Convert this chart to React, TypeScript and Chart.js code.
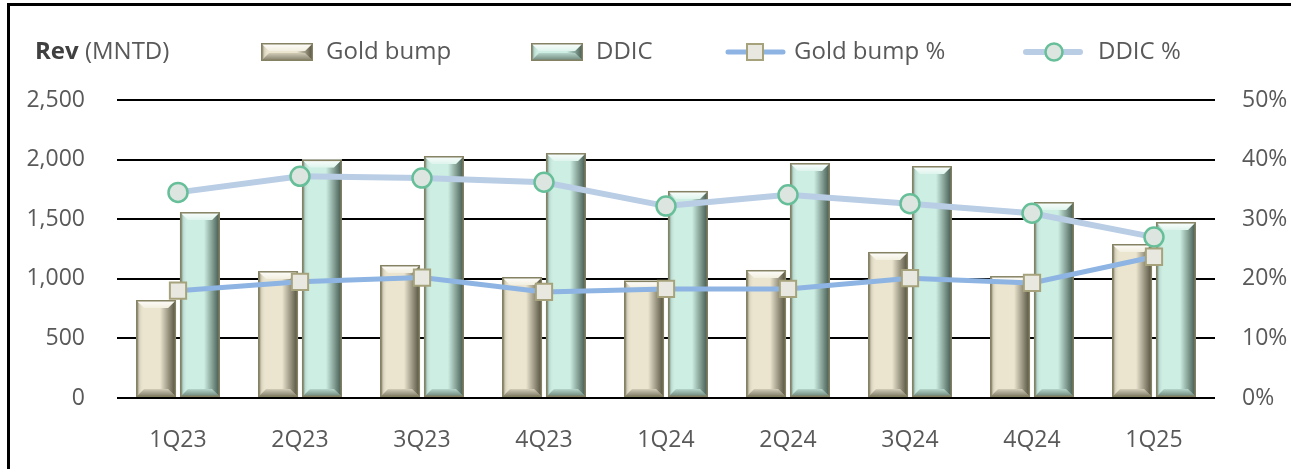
import React, { useEffect, useRef } from "react";
import { Chart, registerables } from "chart.js";

Chart.register(...registerables);

const categories = ["1Q23", "2Q23", "3Q23", "4Q23", "1Q24", "2Q24", "3Q24", "4Q24", "1Q25"];
const goldBump = [822, 1065, 1116, 1015, 985, 1074, 1225, 1023, 1292];
const ddic = [1560, 2000, 2030, 2055, 1737, 1971, 1946, 1644, 1476];
const goldBumpPct = [18.0, 19.5, 20.2, 17.8, 18.3, 18.3, 20.1, 19.3, 23.7];
const ddicPct = [34.5, 37.2, 36.9, 36.2, 32.2, 34.1, 32.6, 31.0, 27.0];
const leftTicks = [0, 500, 1000, 1500, 2000, 2500];
const rightTicks = [0, 10, 20, 30, 40, 50];

const FONT = "'Open Sans', 'Noto Sans', sans-serif";
const TEXT = "#595959";

const GOLD = { base: "#ebe5cf", dark: "62,60,42", border: "#858263" };
const TEAL = { base: "#cdeee3", dark: "48,68,58", border: "#858263" };

function bevel(ctx: CanvasRenderingContext2D, l: number, t: number, w: number, h: number, c: { base: string; dark: string; border: string }) {
  if (h <= 0 || w <= 0) return;
  const b = Math.min(8, w / 4, h / 2);
  ctx.save();
  ctx.fillStyle = c.base;
  ctx.fillRect(l, t, w, h);
  // right shading band
  let g = ctx.createLinearGradient(l + w - b * 2, 0, l + w, 0);
  g.addColorStop(0, `rgba(${c.dark},0)`);
  g.addColorStop(1, `rgba(${c.dark},0.9)`);
  ctx.fillStyle = g;
  ctx.beginPath();
  ctx.moveTo(l + w - b * 2, t + b);
  ctx.lineTo(l + w - b, t + b);
  ctx.lineTo(l + w, t);
  ctx.lineTo(l + w, t + h);
  ctx.lineTo(l + w - b, t + h - b);
  ctx.lineTo(l + w - b * 2, t + h - b);
  ctx.closePath();
  ctx.fill();
  // left edge
  g = ctx.createLinearGradient(l, 0, l + b, 0);
  g.addColorStop(0, `rgba(${c.dark},0.65)`);
  g.addColorStop(0.45, `rgba(${c.dark},0.1)`);
  g.addColorStop(1, `rgba(255,255,255,0)`);
  ctx.fillStyle = g;
  ctx.beginPath();
  ctx.moveTo(l, t);
  ctx.lineTo(l + b, t + b);
  ctx.lineTo(l + b, t + h - b);
  ctx.lineTo(l, t + h);
  ctx.closePath();
  ctx.fill();
  // top bevel
  g = ctx.createLinearGradient(0, t, 0, t + b);
  g.addColorStop(0, "rgba(255,255,255,0.95)");
  g.addColorStop(1, "rgba(255,255,255,0.35)");
  ctx.fillStyle = g;
  ctx.beginPath();
  ctx.moveTo(l, t);
  ctx.lineTo(l + w, t);
  ctx.lineTo(l + w - b, t + b);
  ctx.lineTo(l + b, t + b);
  ctx.closePath();
  ctx.fill();
  // bottom bevel
  g = ctx.createLinearGradient(0, t + h - b, 0, t + h);
  g.addColorStop(0, `rgba(${c.dark},0.15)`);
  g.addColorStop(1, `rgba(${c.dark},0.65)`);
  ctx.fillStyle = g;
  ctx.beginPath();
  ctx.moveTo(l, t + h);
  ctx.lineTo(l + w, t + h);
  ctx.lineTo(l + w - b, t + h - b);
  ctx.lineTo(l + b, t + h - b);
  ctx.closePath();
  ctx.fill();
  ctx.strokeStyle = c.border;
  ctx.lineWidth = 1.5;
  ctx.strokeRect(l + 0.75, t + 0.75, w - 1.5, h - 1.5);
  ctx.restore();
}

const bevelPlugin = {
  id: "bevelBars",
  afterDatasetDraw(chart: any, args: any) {
    const meta = args.meta;
    if (meta.type !== "bar") return;
    const ds = chart.data.datasets[args.index];
    const c = ds.bevel === "gold" ? GOLD : TEAL;
    const ctx = chart.ctx;
    const area = chart.chartArea;
    ctx.save();
    ctx.beginPath();
    ctx.rect(area.left, area.top - 2, area.right - area.left, area.bottom - area.top + 4);
    ctx.clip();
    meta.data.forEach((el: any) => {
      const p = el.getProps(["x", "y", "base", "width"], true);
      const l = p.x - p.width / 2;
      bevel(ctx, l, p.y, p.width, p.base - p.y, c);
    });
    ctx.restore();
  },
};

const legendPlugin = {
  id: "customLegend",
  afterDraw(chart: any) {
    const ctx: CanvasRenderingContext2D = chart.ctx;
    const ds = chart.data.datasets;
    const cy = 52;
    ctx.save();
    ctx.textBaseline = "middle";
    ctx.textAlign = "left";
    ctx.fillStyle = "#404040";
    ctx.font = `bold 24px ${FONT}`;
    ctx.fillText("Rev", 35, cy);
    const w = ctx.measureText("Rev").width;
    ctx.font = `24px ${FONT}`;
    ctx.fillStyle = TEXT;
    ctx.fillText(" (MNTD)", 35 + w, cy);
    // bar swatches
    bevel(ctx, 261, 43, 52, 18, GOLD);
    ctx.fillStyle = TEXT;
    ctx.fillText(ds[0].label, 326, cy);
    bevel(ctx, 531, 43, 52, 18, TEAL);
    ctx.fillStyle = TEXT;
    ctx.fillText(ds[1].label, 596, cy);
    // gold bump % line
    ctx.lineCap = "round";
    ctx.strokeStyle = ds[2].borderColor;
    ctx.lineWidth = 5;
    ctx.beginPath();
    ctx.moveTo(728, cy);
    ctx.lineTo(783, cy);
    ctx.stroke();
    ctx.fillStyle = ds[2].pointBackgroundColor;
    ctx.strokeStyle = ds[2].pointBorderColor;
    ctx.lineWidth = 2;
    ctx.fillRect(747, cy - 8, 16, 16);
    ctx.strokeRect(747, cy - 8, 16, 16);
    ctx.fillStyle = TEXT;
    ctx.fillText(ds[2].label, 794, cy);
    // ddic % line
    ctx.strokeStyle = ds[3].borderColor;
    ctx.lineWidth = 6;
    ctx.beginPath();
    ctx.moveTo(1026, cy);
    ctx.lineTo(1080, cy);
    ctx.stroke();
    ctx.fillStyle = ds[3].pointBackgroundColor;
    ctx.strokeStyle = ds[3].pointBorderColor;
    ctx.lineWidth = 2.5;
    ctx.beginPath();
    ctx.arc(1054, cy, 8.5, 0, Math.PI * 2);
    ctx.fill();
    ctx.stroke();
    ctx.fillStyle = TEXT;
    ctx.fillText(ds[3].label, 1098, cy);
    ctx.restore();
  },
};

export default function App() {
  const ref = useRef<HTMLCanvasElement>(null);
  useEffect(() => {
    if (!ref.current) return;
    const chart = new Chart(ref.current, {
      type: "bar",
      data: {
        labels: categories,
        datasets: [
          {
            type: "bar",
            label: "Gold bump",
            data: goldBump,
            backgroundColor: GOLD.base,
            borderWidth: 0,
            yAxisID: "y",
            order: 2,
            categoryPercentage: 0.72,
            barPercentage: 0.91,
            bevel: "gold",
          } as any,
          {
            type: "bar",
            label: "DDIC",
            data: ddic,
            backgroundColor: TEAL.base,
            borderWidth: 0,
            yAxisID: "y",
            order: 2,
            categoryPercentage: 0.72,
            barPercentage: 0.91,
            bevel: "teal",
          } as any,
          {
            type: "line",
            label: "Gold bump %",
            data: goldBumpPct,
            borderColor: "#8db4e2",
            borderWidth: 5,
            pointStyle: "rect",
            pointRadius: 11.5,
            pointBackgroundColor: "#e9e8e0",
            pointBorderColor: "#a6a37c",
            pointBorderWidth: 2,
            yAxisID: "y1",
            order: 0,
            tension: 0,
          } as any,
          {
            type: "line",
            label: "DDIC %",
            data: ddicPct,
            borderColor: "#b9cde5",
            borderWidth: 6,
            pointStyle: "circle",
            pointRadius: 9.5,
            pointBackgroundColor: "#dce5df",
            pointBorderColor: "#66bf99",
            pointBorderWidth: 2.5,
            yAxisID: "y1",
            order: 1,
            tension: 0,
          } as any,
        ],
      },
      options: {
        responsive: false,
        animation: false,
        layout: { padding: { top: 100, left: 0, right: 0, bottom: 0 } },
        plugins: { legend: { display: false }, tooltip: { enabled: false } },
        scales: {
          x: {
            grid: { display: false },
            border: { display: false },
            ticks: {
              color: TEXT,
              font: { family: FONT, size: 23 },
              padding: 21,
            },
            afterFit: (s: any) => {
              s.height = 71;
            },
          },
          y: {
            position: "left",
            min: 0,
            max: 2500,
            afterBuildTicks: (s: any) => {
              s.ticks = leftTicks.map((v) => ({ value: v }));
            },
            grid: { color: "#000000", lineWidth: 2, drawTicks: false },
            border: { display: false },
            ticks: {
              color: TEXT,
              font: { family: FONT, size: 23 },
              padding: 32,
              callback: (v: any) => Number(v).toLocaleString("en-US"),
            },
            afterFit: (s: any) => {
              s.width = 117;
            },
          },
          y1: {
            position: "right",
            min: 0,
            max: 50,
            afterBuildTicks: (s: any) => {
              s.ticks = rightTicks.map((v) => ({ value: v }));
            },
            grid: { display: false, drawTicks: false },
            border: { display: false },
            ticks: {
              color: TEXT,
              font: { family: FONT, size: 23 },
              padding: 27,
              callback: (v: any) => `${v}%`,
            },
            afterFit: (s: any) => {
              s.width = 76;
            },
          },
        },
      },
      plugins: [bevelPlugin, legendPlugin],
    });
    return () => chart.destroy();
  }, []);

  return (
    <div style={{ position: "absolute", left: 0, top: 0, width: 1291, height: 469, background: "#fff", overflow: "hidden" }}>
      <canvas ref={ref} width={1291} height={469} style={{ position: "absolute", left: 0, top: 0 }} />
      <div
        style={{
          position: "absolute",
          left: 7,
          top: 3,
          width: 1300,
          height: 500,
          borderLeft: "3px solid #000",
          borderTop: "3px solid #000",
          pointerEvents: "none",
        }}
      />
    </div>
  );
}
